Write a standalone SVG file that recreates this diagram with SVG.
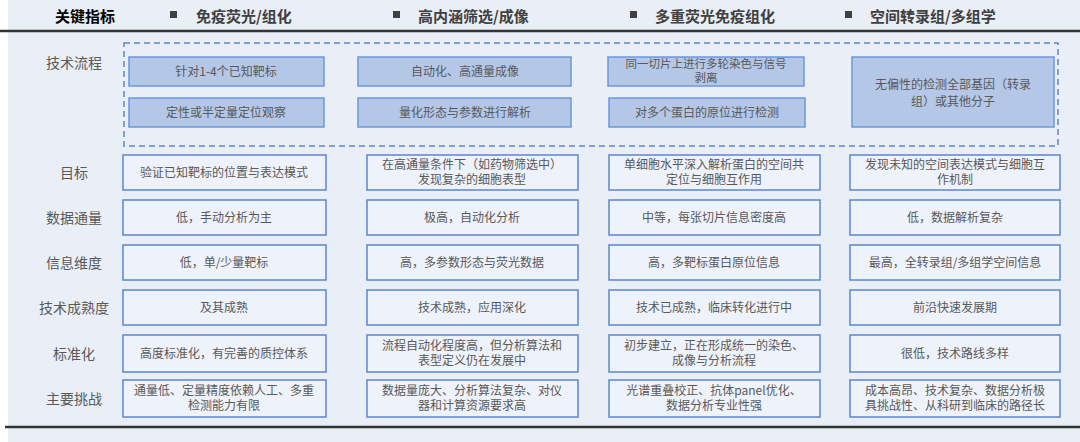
<svg xmlns="http://www.w3.org/2000/svg" width="1080" height="442" viewBox="0 0 1080 442">
<style>
text{font-family:"Noto Sans CJK SC","Noto Sans",sans-serif;fill:#595959;font-size:12px;text-anchor:middle}
.h{font-size:15px;font-weight:bold;fill:#404040;text-anchor:start}
.lab{font-size:14px;fill:#595959}
.p{fill:#b4c7e7;stroke:#6b98dc;stroke-width:1.5}
.c{fill:#eef2fa;stroke:#5b86d0;stroke-width:1.5}
</style>
<rect width="1080" height="442" fill="#ffffff"/>
<rect x="8" y="0" width="1072" height="442" fill="#e9eef7"/>
<g id="header">
<text class="h" x="55" y="22" style="fill:#000">关键指标</text>
<rect x="170" y="11" width="7" height="7" fill="#404040"/><text class="h" x="196" y="22">免疫荧光/组化</text>
<rect x="393" y="11" width="7" height="7" fill="#404040"/><text class="h" x="418" y="22">高内涵筛选/成像</text>
<rect x="630" y="11" width="7" height="7" fill="#404040"/><text class="h" x="655" y="22">多重荧光免疫组化</text>
<rect x="845" y="11" width="7" height="7" fill="#404040"/><text class="h" x="870" y="22">空间转录组/多组学</text>
</g>
<line x1="0" y1="31" x2="1080" y2="31" stroke="#333" stroke-width="2.5"/>
<line x1="5" y1="427" x2="1080" y2="427" stroke="#333" stroke-width="2.5"/>
<g id="labels">
<text class="lab" x="74" y="68">技术流程</text>
<text class="lab" x="74" y="178">目标</text>
<text class="lab" x="74" y="223">数据通量</text>
<text class="lab" x="74" y="268">信息维度</text>
<text class="lab" x="74" y="313">技术成熟度</text>
<text class="lab" x="74" y="359">标准化</text>
<text class="lab" x="74" y="404">主要挑战</text>
</g>
<rect x="124" y="43" width="934" height="103" fill="none" stroke="#5b86d0" stroke-width="1.5" stroke-dasharray="6,4"/>
<g id="process">
<rect class="p" x="129" y="57" width="195" height="29"/><text x="226" y="76">针对1-4个已知靶标</text>
<rect class="p" x="129" y="98" width="195" height="29"/><text x="226" y="117">定性或半定量定位观察</text>
<rect class="p" x="358" y="57" width="213" height="29"/><text x="465" y="76">自动化、高通量成像</text>
<rect class="p" x="358" y="98" width="213" height="29"/><text x="465" y="117">量化形态与参数进行解析</text>
<rect class="p" x="608" y="57" width="196" height="29"/><text x="706" y="68" style="font-size:11.5px">同一切片上进行多轮染色与信号</text><text x="706" y="82" style="font-size:11.5px">剥离</text>
<rect class="p" x="609" y="98" width="196" height="29"/><text x="707" y="117">对多个蛋白的原位进行检测</text>
<rect class="p" x="852" y="57" width="202" height="70"/><text x="953" y="89">无偏性的检测全部基因（转录</text><text x="953" y="106">组）或其他分子</text>
</g>
<g id="cells">
<rect class="c" x="123" y="155" width="203" height="35"/><text x="224" y="177">验证已知靶标的位置与表达模式</text>
<rect class="c" x="367" y="155" width="211" height="35"/><text x="472" y="169">在高通量条件下（如药物筛选中）</text><text x="472" y="184">发现复杂的细胞表型</text>
<rect class="c" x="609" y="155" width="211" height="35"/><text x="714" y="169">单细胞水平深入解析蛋白的空间共</text><text x="714" y="184">定位与细胞互作用</text>
<rect class="c" x="850" y="155" width="210" height="35"/><text x="955" y="169">发现未知的空间表达模式与细胞互</text><text x="955" y="184">作机制</text>

<rect class="c" x="123" y="200" width="203" height="35"/><text x="224" y="222">低，手动分析为主</text>
<rect class="c" x="367" y="200" width="211" height="35"/><text x="472" y="222">极高，自动化分析</text>
<rect class="c" x="609" y="200" width="211" height="35"/><text x="714" y="222">中等，每张切片信息密度高</text>
<rect class="c" x="850" y="200" width="210" height="35"/><text x="955" y="222">低，数据解析复杂</text>

<rect class="c" x="123" y="245" width="203" height="35"/><text x="224" y="267">低，单/少量靶标</text>
<rect class="c" x="367" y="245" width="211" height="35"/><text x="472" y="267">高，多参数形态与荧光数据</text>
<rect class="c" x="609" y="245" width="211" height="35"/><text x="714" y="267">高，多靶标蛋白原位信息</text>
<rect class="c" x="850" y="245" width="210" height="35"/><text x="955" y="267">最高，全转录组/多组学空间信息</text>

<rect class="c" x="123" y="290" width="203" height="35"/><text x="224" y="312">及其成熟</text>
<rect class="c" x="367" y="290" width="211" height="35"/><text x="472" y="312">技术成熟，应用深化</text>
<rect class="c" x="609" y="290" width="211" height="35"/><text x="714" y="312">技术已成熟，临床转化进行中</text>
<rect class="c" x="850" y="290" width="210" height="35"/><text x="955" y="312">前沿快速发展期</text>

<rect class="c" x="123" y="335" width="203" height="37"/><text x="224" y="358">高度标准化，有完善的质控体系</text>
<rect class="c" x="367" y="335" width="211" height="37"/><text x="472" y="350">流程自动化程度高，但分析算法和</text><text x="472" y="365">表型定义仍在发展中</text>
<rect class="c" x="609" y="335" width="211" height="37"/><text x="714" y="350">初步建立，正在形成统一的染色、</text><text x="714" y="365">成像与分析流程</text>
<rect class="c" x="850" y="335" width="210" height="37"/><text x="955" y="358">很低，技术路线多样</text>

<rect class="c" x="123" y="380" width="203" height="37"/><text x="224" y="395">通量低、定量精度依赖人工、多重</text><text x="224" y="410">检测能力有限</text>
<rect class="c" x="367" y="380" width="211" height="37"/><text x="472" y="395">数据量庞大、分析算法复杂、对仪</text><text x="472" y="410">器和计算资源要求高</text>
<rect class="c" x="609" y="380" width="211" height="37"/><text x="714" y="395">光谱重叠校正、抗体panel优化、</text><text x="714" y="410">数据分析专业性强</text>
<rect class="c" x="850" y="380" width="210" height="37"/><text x="955" y="395">成本高昂、技术复杂、数据分析极</text><text x="955" y="410">具挑战性、从科研到临床的路径长</text>
</g>
</svg>
